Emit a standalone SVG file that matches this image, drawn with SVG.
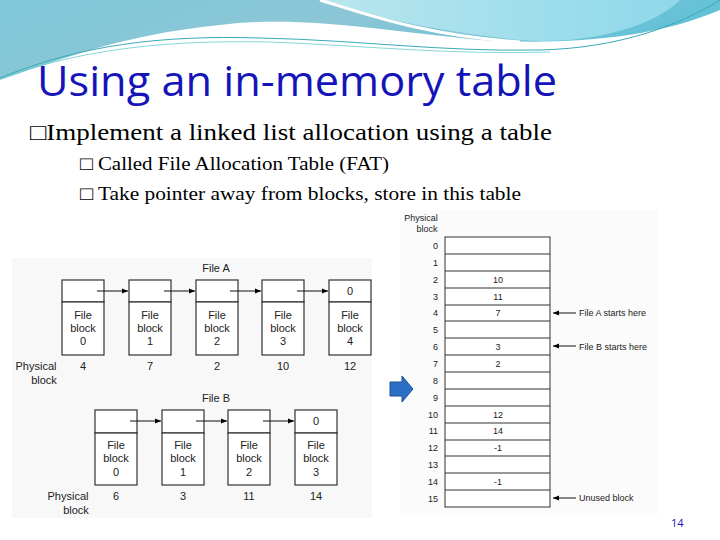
<svg xmlns="http://www.w3.org/2000/svg" width="720" height="540" viewBox="0 0 720 540">
<defs>
<linearGradient id="g1" x1="0" y1="0" x2="1" y2="0.3"><stop offset="0" stop-color="#7fc8d8"/><stop offset="0.5" stop-color="#8cc6d6"/><stop offset="1" stop-color="#5fc0d8"/></linearGradient>
<linearGradient id="g2" x1="0" y1="0" x2="1" y2="0"><stop offset="0" stop-color="#b8e6ee"/><stop offset="1" stop-color="#8fd8ea"/></linearGradient>
<marker id="ah" viewBox="0 0 10 10" refX="10" refY="5" markerWidth="9" markerHeight="6" orient="auto"><path d="M0,1 L10,5 L0,9 z" fill="#000"/></marker>
<style>
.t{font-family:"Liberation Sans",Arial,sans-serif;fill:#222;text-anchor:middle}
.s{font-size:11px}.r{font-size:9px}
.box{fill:#fff;stroke:#333;stroke-width:1.2}
.c{stroke:#111;stroke-width:1;fill:none;marker-end:url(#ah)}
.b{font-family:"Liberation Serif",serif;fill:#000}
</style>
</defs>
<rect width="720" height="540" fill="#fff"/>
<g id="header">
<path d="M0,0 H720 V10 C650,40 560,45 480,40 C380,30 300,15 220,25 C120,35 60,60 0,80 Z" fill="url(#g1)"/>
<path d="M320,0 H680 C650,30 580,45 520,40 C440,32 360,15 320,0 Z" fill="url(#g2)"/>
<path d="M320,0 C360,12 420,35 520,42" stroke="#fff" stroke-width="3" fill="none"/>
<path d="M0,78 C80,45 160,35 260,38 C360,40 440,52 540,50 C620,48 680,25 720,0" stroke="#3aa9b8" stroke-width="1" fill="none"/>
<path d="M10,75 C90,48 170,40 270,42 C370,46 450,55 550,52" stroke="#6cc" stroke-width="0.8" fill="none"/>
</g>
<text x="37" y="96" font-family="'Open Sans',sans-serif" font-size="42" fill="#1414b8" textLength="520" lengthAdjust="spacingAndGlyphs">Using an in-memory table</text>
<text x="30" y="140" class="b" font-size="23" textLength="522" lengthAdjust="spacingAndGlyphs">□Implement a linked list allocation using a table</text>
<text x="80" y="170" class="b" font-size="19" textLength="309" lengthAdjust="spacingAndGlyphs">□ Called File Allocation Table (FAT)</text>
<text x="80" y="200" class="b" font-size="19" textLength="441" lengthAdjust="spacingAndGlyphs">□ Take pointer away from blocks, store in this table</text>
<rect x="12" y="258" width="360" height="260" fill="#f8f8f8"/>
<rect x="400" y="210" width="258" height="305" fill="#fbfbfb"/>
<g id="fileA">
<text x="216" y="272" class="t s">File A</text>
<g id="a0"><rect class="box" x="62" y="280" width="42" height="22"/><rect class="box" x="62" y="302" width="42" height="53"/><text class="t s" x="83" y="319">File</text><text class="t s" x="83" y="332">block</text><text class="t s" x="83" y="345">0</text><text class="t s" x="83" y="370">4</text></g>
<g id="a1"><rect class="box" x="129" y="280" width="42" height="22"/><rect class="box" x="129" y="302" width="42" height="53"/><text class="t s" x="150" y="319">File</text><text class="t s" x="150" y="332">block</text><text class="t s" x="150" y="345">1</text><text class="t s" x="150" y="370">7</text></g>
<g id="a2"><rect class="box" x="196" y="280" width="42" height="22"/><rect class="box" x="196" y="302" width="42" height="53"/><text class="t s" x="217" y="319">File</text><text class="t s" x="217" y="332">block</text><text class="t s" x="217" y="345">2</text><text class="t s" x="217" y="370">2</text></g>
<g id="a3"><rect class="box" x="262" y="280" width="42" height="22"/><rect class="box" x="262" y="302" width="42" height="53"/><text class="t s" x="283" y="319">File</text><text class="t s" x="283" y="332">block</text><text class="t s" x="283" y="345">3</text><text class="t s" x="283" y="370">10</text></g>
<g id="a4"><rect class="box" x="329" y="280" width="42" height="22"/><rect class="box" x="329" y="302" width="42" height="53"/><text class="t s" x="350" y="295">0</text><text class="t s" x="350" y="319">File</text><text class="t s" x="350" y="332">block</text><text class="t s" x="350" y="345">4</text><text class="t s" x="350" y="370">12</text></g>
<text class="t s" x="36" y="370">Physical</text><text class="t s" x="44" y="384">block</text>
</g>
<g id="fileB">
<text x="216" y="402" class="t s">File B</text>
<g id="b0"><rect class="box" x="95" y="410" width="42" height="23"/><rect class="box" x="95" y="433" width="42" height="52"/><text class="t s" x="116" y="449">File</text><text class="t s" x="116" y="462">block</text><text class="t s" x="116" y="476">0</text><text class="t s" x="116" y="500">6</text></g>
<g id="b1"><rect class="box" x="162" y="410" width="42" height="23"/><rect class="box" x="162" y="433" width="42" height="52"/><text class="t s" x="183" y="449">File</text><text class="t s" x="183" y="462">block</text><text class="t s" x="183" y="476">1</text><text class="t s" x="183" y="500">3</text></g>
<g id="b2"><rect class="box" x="228" y="410" width="42" height="23"/><rect class="box" x="228" y="433" width="42" height="52"/><text class="t s" x="249" y="449">File</text><text class="t s" x="249" y="462">block</text><text class="t s" x="249" y="476">2</text><text class="t s" x="249" y="500">11</text></g>
<g id="b3"><rect class="box" x="295" y="410" width="42" height="23"/><rect class="box" x="295" y="433" width="42" height="52"/><text class="t s" x="316" y="425">0</text><text class="t s" x="316" y="449">File</text><text class="t s" x="316" y="462">block</text><text class="t s" x="316" y="476">3</text><text class="t s" x="316" y="500">14</text></g>
<text class="t s" x="68" y="500">Physical</text><text class="t s" x="76" y="514">block</text>
</g>
<g id="connectors">
<path class="c" d="M97,291 H128"/><path class="c" d="M164,291 H195"/><path class="c" d="M230,291 H261"/><path class="c" d="M297,291 H328"/>
<path class="c" d="M130,421 H161"/><path class="c" d="M196,421 H227"/><path class="c" d="M263,421 H294"/>
<path class="c" d="M576,313 H553"/><path class="c" d="M576,346 H553"/><path class="c" d="M576,498 H553"/>
</g>
<g id="bigArrow"><path d="M390,382 H402 V376 L413,389 L402,402 V396 H390 Z" fill="#2a6fc4" stroke="#1a4f94"/></g>
<g id="fat">
<text class="t r" x="421" y="221">Physical</text><text class="t r" x="427" y="232">block</text>
<rect x="445" y="237" width="105" height="270" fill="#fff" stroke="#333"/>
<g stroke="#333" stroke-width="1.2">
<line x1="445" y1="254" x2="550" y2="254"/><line x1="445" y1="271" x2="550" y2="271"/><line x1="445" y1="288" x2="550" y2="288"/><line x1="445" y1="305" x2="550" y2="305"/><line x1="445" y1="321" x2="550" y2="321"/><line x1="445" y1="338" x2="550" y2="338"/><line x1="445" y1="355" x2="550" y2="355"/><line x1="445" y1="372" x2="550" y2="372"/><line x1="445" y1="389" x2="550" y2="389"/><line x1="445" y1="406" x2="550" y2="406"/><line x1="445" y1="423" x2="550" y2="423"/><line x1="445" y1="440" x2="550" y2="440"/><line x1="445" y1="456" x2="550" y2="456"/><line x1="445" y1="473" x2="550" y2="473"/><line x1="445" y1="490" x2="550" y2="490"/>
</g>
<g class="t r" style="text-anchor:end">
<text x="438" y="249">0</text><text x="438" y="266">1</text><text x="438" y="283">2</text><text x="438" y="300">3</text><text x="438" y="316">4</text><text x="438" y="333">5</text><text x="438" y="350">6</text><text x="438" y="367">7</text><text x="438" y="384">8</text><text x="438" y="401">9</text><text x="438" y="418">10</text><text x="438" y="434">11</text><text x="438" y="451">12</text><text x="438" y="468">13</text><text x="438" y="485">14</text><text x="438" y="502">15</text>
</g>
<g class="t r">
<text x="498" y="283">10</text><text x="498" y="300">11</text><text x="498" y="316">7</text><text x="498" y="350">3</text><text x="498" y="367">2</text><text x="498" y="418">12</text><text x="498" y="434">14</text><text x="498" y="451">-1</text><text x="498" y="485">-1</text>
</g>
<g class="t r" style="text-anchor:start">
<text x="579" y="316">File A starts here</text><text x="579" y="350">File B starts here</text><text x="579" y="501">Unused block</text>
</g>
</g>
<text x="671" y="527" font-family="'Open Sans',sans-serif" font-size="11" fill="#1414b8">14</text>
</svg>
